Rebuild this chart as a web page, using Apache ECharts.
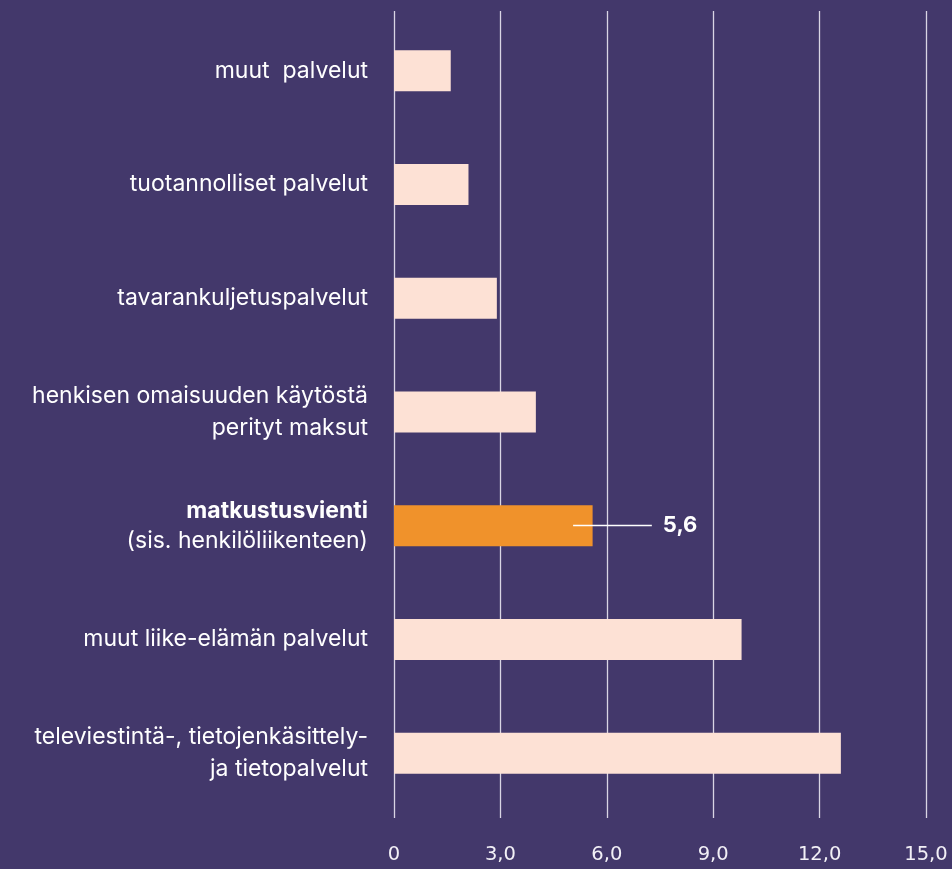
<!DOCTYPE html>
<html><head><meta charset="utf-8">
<script src="https://cdn.jsdelivr.net/npm/echarts@6/dist/echarts.min.js"></script>
<style>html,body{margin:0;padding:0;background:#43386b;}#c{width:952px;height:869px;}</style>
</head><body><div id="c"></div>
<script>
const categories = [
  "muut  palvelut",
  "tuotannolliset palvelut",
  "tavarankuljetuspalvelut",
  "henkisen omaisuuden käytöstä\nperityt maksut",
  "matkustusvienti\n(sis. henkilöliikenteen)",
  "muut liike-elämän palvelut",
  "televiestintä-, tietojenkäsittely-\nja tietopalvelut"
];
const values = [1.6, 2.1, 2.9, 4.0, 5.6, 9.8, 12.6];
const highlightIndex = 4;
const xTicks = [0, 3, 6, 9, 12, 15];
const leaderFrom = 5.05, leaderTo = 7.27;

const FONT = 'Inter';
const TICKFONT = 'DejaVu Sans';
const bg = '#43386b';
const peach = '#fde1d5';
const orange = '#f0922b';

const chart = echarts.init(document.getElementById('c'), null, {renderer: 'canvas'});
const fmtTick = v => v === 0 ? '0' : v.toFixed(1).replace('.', ',');

const option = {
  backgroundColor: bg,
  animation: false,
  grid: [
    {left: 394, right: 26, top: 14, bottom: 59},
    {left: 394, right: 26, top: 11, bottom: 51}
  ],
  xAxis: [
    {gridIndex: 0, type: 'value', min: xTicks[0], max: xTicks[xTicks.length-1], interval: 3,
     axisLine: {show: false}, axisTick: {show: false}, splitLine: {show: false},
     axisLabel: {show: false}},
    {gridIndex: 1, type: 'value', min: xTicks[0], max: xTicks[xTicks.length-1], interval: 3,
     axisLine: {show: false}, axisTick: {show: false},
     splitLine: {show: true, lineStyle: {color: '#d9d5e4', width: 1.3}},
     axisLabel: {show: true, formatter: fmtTick, color: '#f2f0f6', fontFamily: TICKFONT, fontSize: 19.5, margin: 27}}
  ],
  yAxis: [
    {gridIndex: 0, type: 'category', data: categories, inverse: true,
     axisLine: {show: false}, axisTick: {show: false}, splitLine: {show: false},
     axisLabel: {
       color: '#ffffff', fontFamily: FONT, fontSize: 23, lineHeight: 32, margin: 26, align: 'right',
       formatter: (v, i) => {
         if (i === highlightIndex) {
           const parts = v.split('\n');
           return '{b|' + parts[0] + '}\n{n|' + parts[1] + '}';
         }
         return v;
       },
       rich: {
         b: {fontWeight: 'bold', color: '#ffffff', fontFamily: FONT, fontSize: 23, lineHeight: 30},
         n: {color: '#ffffff', fontFamily: FONT, fontSize: 23, lineHeight: 30}
       }
     }},
    {gridIndex: 1, type: 'category', data: categories, inverse: true, show: false}
  ],
  series: [
    {
      type: 'bar', xAxisIndex: 0, yAxisIndex: 0, barWidth: 41,
      z: 3,
      data: values.map((v, i) => ({value: v, itemStyle: {color: i === highlightIndex ? orange : peach}})),
      markLine: {
        silent: true, symbol: ['none', 'none'], z: 5,
        lineStyle: {color: '#ffffff', width: 1.3, type: 'solid'},
        label: {show: true, position: 'end', distance: 11, formatter: () => fmtTick(values[highlightIndex]),
                color: '#ffffff', fontFamily: FONT, fontSize: 22, fontWeight: 'bold'},
        data: [[
          {coord: [leaderFrom, categories[highlightIndex]]},
          {coord: [leaderTo, categories[highlightIndex]]}
        ]]
      }
    },
    {type: 'scatter', xAxisIndex: 1, yAxisIndex: 1, data: [], silent: true}
  ]
};
chart.setOption(option);
</script>
</body></html>
